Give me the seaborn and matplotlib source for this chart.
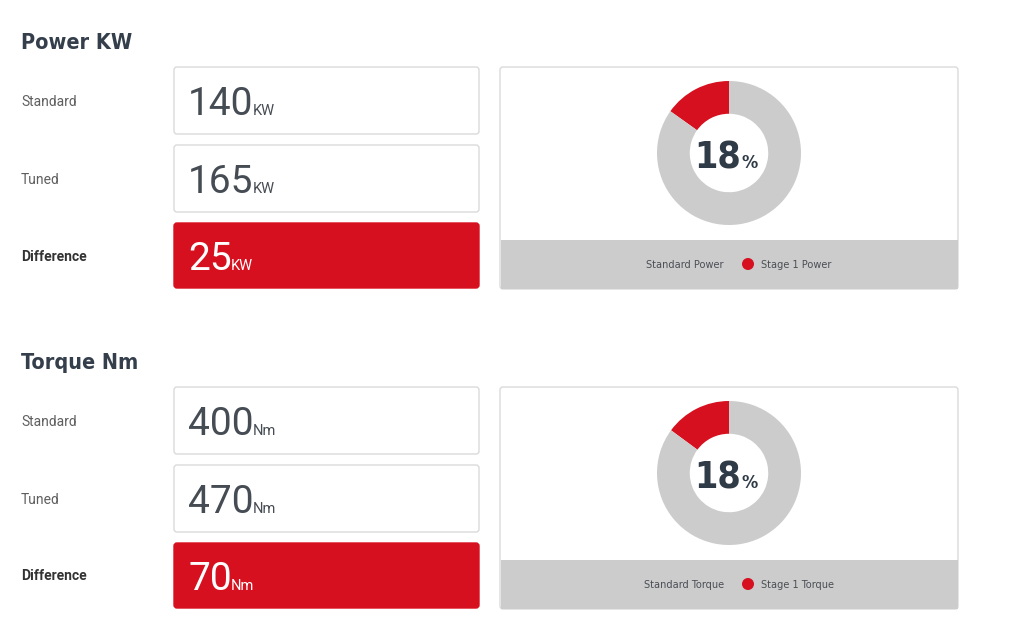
import matplotlib
matplotlib.use("Agg")
import matplotlib.pyplot as plt
from matplotlib.patches import FancyBboxPatch, Rectangle, Circle
import seaborn as sns

sns.set_theme(style="white")
plt.rcParams["font.family"] = ["Roboto", "DejaVu Sans"]

# Data
sections = ["Power KW", "Torque Nm"]
units = ["KW", "Nm"]
row_labels = ["Standard", "Tuned", "Difference"]
standard_vals = [140, 400]
tuned_vals = [165, 470]
diff_vals = [25, 70]
gain_pct = [18, 18]
legend_std = ["Standard Power", "Standard Torque"]
legend_stage = ["Stage 1 Power", "Stage 1 Torque"]

RED = "#d7101f"
GREY = "#cccccc"
DARK = "#343f4b"
EDGE = "#dadada"
NARROW = ["DejaVu Sans"]

W, H = 1024, 644
fig = plt.figure(figsize=(W / 100, H / 100), dpi=100)
fig.patch.set_facecolor("white")
ax = fig.add_axes([0, 0, 1, 1])
ax.set_xlim(0, W)
ax.set_ylim(H, 0)
ax.axis("off")
renderer = fig.canvas.get_renderer()


def x_end(t):
    bb = t.get_window_extent(renderer)
    return ax.transData.inverted().transform((bb.x1, bb.y0))[0]


def value_text(x, y, value, unit, color):
    t = ax.text(x, y, str(value), fontsize=28, fontweight="normal",
                color=color, va="baseline")
    ax.text(x_end(t) - 1, y, unit, fontsize=10.5, color=color, va="baseline")


def box(x0, y0, w, h, face, edge):
    ax.add_patch(FancyBboxPatch((x0, y0), w, h,
                                boxstyle="round,pad=0,rounding_size=3",
                                fc=face, ec=edge, lw=1))


for i, title in enumerate(sections):
    dy = 320 * i

    # title
    ax.text(21, 49 + dy, title, fontsize=15.5, fontweight="bold",
            family=NARROW, fontstretch="condensed", color=DARK, va="baseline")

    # rows
    vals = [standard_vals[i], tuned_vals[i], diff_vals[i]]
    tops = [67, 145, 223]
    heights = [67, 67, 65]
    for j, (lab, v) in enumerate(zip(row_labels, vals)):
        top = tops[j] + dy
        cy = top + heights[j] / 2
        last = j == len(row_labels) - 1
        ax.text(21, cy + 5, lab, fontsize=10,
                fontweight="bold" if last else "normal",
                color="#333333" if last else "#5f5f5f", va="baseline")
        if last:
            box(174, top, 305, heights[j], RED, RED)
            value_text(188, cy + 14.5, v, units[i], "white")
        else:
            box(174, top, 305, heights[j], "white", EDGE)
            value_text(188, cy + 14.5, v, units[i], "#464c53")

    # chart panel
    box(500, 67 + dy, 458, 222, "white", EDGE)
    ax.add_patch(Rectangle((500.5, 240 + dy), 457, 48.5, fc=GREY, ec="none"))

    # donut
    cx, cyd, r = 729, 153 + dy, 72
    pax = fig.add_axes([(cx - r) / W, 1 - (cyd + r) / H, 2 * r / W, 2 * r / H])
    pax.pie([diff_vals[i], standard_vals[i]], colors=[RED, GREY],
            startangle=90, counterclock=True, radius=1,
            wedgeprops=dict(width=0.455, linewidth=0))
    pax.set_xlim(-1, 1)
    pax.set_ylim(-1, 1)
    pax.set_aspect("equal")
    pax.axis("off")

    # centre label
    t1 = pax.text(0, 168 + dy, str(gain_pct[i]), transform=ax.transData,
                  fontsize=27, fontweight="bold", family=NARROW,
                  fontstretch="condensed", color="#2f3b47", va="baseline")
    t2 = pax.text(0, 168 + dy, "%", transform=ax.transData,
                  fontsize=13, fontweight="bold", family=NARROW,
                  fontstretch="condensed", color="#2f3b47", va="baseline")
    w1 = x_end(t1)
    w2 = x_end(t2)
    start = 726 - (w1 + w2) / 2
    t1.set_x(start)
    t2.set_x(start + w1)

    # legend
    ax.text(724, 268 + dy, legend_std[i], fontsize=7.8, family=NARROW,
            fontstretch="condensed", color="#4a4f55", ha="right", va="baseline")
    ax.add_patch(Circle((748, 264 + dy), 6, fc=RED, ec="none"))
    ax.text(761, 268 + dy, legend_stage[i], fontsize=7.8, family=NARROW,
            fontstretch="condensed", color="#4a4f55", ha="left", va="baseline")

fig.savefig("out.png", dpi=100, facecolor="white")
